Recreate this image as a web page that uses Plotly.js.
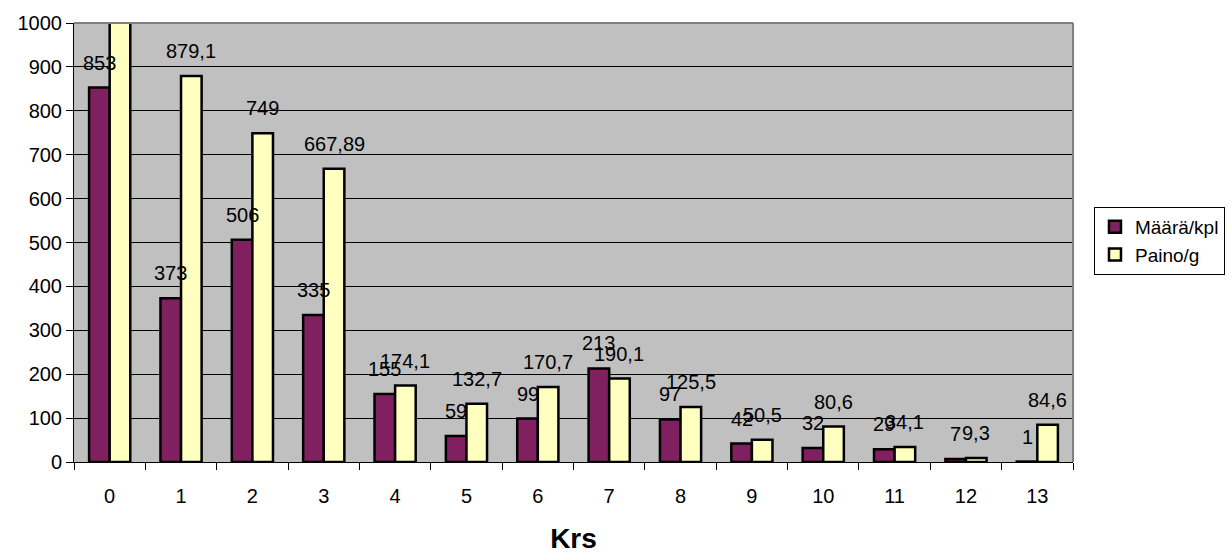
<!DOCTYPE html>
<html>
<head>
<meta charset="utf-8">
<script src="https://cdn.plot.ly/plotly-3.0.1.min.js"></script>
<style>html,body{margin:0;padding:0;background:#fff;}#chart{width:1232px;height:554px;}</style>
</head>
<body>
<div id="chart"></div>
<script>
const categories = ["0","1","2","3","4","5","6","7","8","9","10","11","12","13"];
const maaraValues = [853, 373, 506, 335, 155, 59, 99, 213, 97, 42, 32, 29, 7, 1];
const painoValues = [1130, 879.1, 749, 667.89, 174.1, 132.7, 170.7, 190.1, 125.5, 50.5, 80.6, 34.1, 9.3, 84.6];
const seriesNames = ["Määrä/kpl", "Paino/g"];
const yTicks = [0,100,200,300,400,500,600,700,800,900,1000];

const FONT = "Liberation Sans, Arial, sans-serif";
const fmt = v => String(v).replace('.', ',');

const barLine = {color: '#000000', width: 2.5};
const traces = [
  {type: 'bar', name: seriesNames[0], x: categories, y: maaraValues,
   marker: {color: '#802060', line: barLine}, hoverinfo: 'x+y'},
  {type: 'bar', name: seriesNames[1], x: categories, y: painoValues,
   marker: {color: '#FFFFC0', line: barLine}, hoverinfo: 'x+y'}
];

const annotations = [];
const series = [maaraValues, painoValues];
const shifts = [-10.3, 10.3];
series.forEach((vals, s) => {
  vals.forEach((v, i) => {
    annotations.push({
      x: categories[i], y: v, xref: 'x', yref: 'y',
      text: fmt(v), showarrow: false, xshift: shifts[s], yshift: 25,
      yanchor: 'middle', xanchor: 'center',
      font: {family: FONT, size: 20, color: '#000'}
    });
  });
});

const layout = {
  width: 1232, height: 554,
  margin: {l: 74, r: 159, t: 23, b: 92, pad: 0, autoexpand: false},
  paper_bgcolor: '#ffffff',
  plot_bgcolor: '#C0C0C0',
  barmode: 'group',
  bargap: 0.423,
  bargroupgap: 0,
  font: {family: FONT, size: 20, color: '#000'},
  xaxis: {
    type: 'category',
    showline: true, linecolor: '#000', linewidth: 1,
    ticks: 'outside', ticklen: 7, tickcolor: '#000', tickwidth: 1,
    tickson: 'boundaries', showgrid: false,
    ticklabelstandoff: 16,
    tickfont: {family: FONT, size: 20, color: '#000'},
    title: {text: '<b>Krs</b>', font: {family: FONT, size: 28, color: '#000'}, standoff: 24}
  },
  yaxis: {
    range: [0, 1000], tickvals: yTicks, ticktext: yTicks.map(String),
    showline: true, linecolor: '#000', linewidth: 1,
    ticks: 'outside', ticklen: 7, tickcolor: '#000', tickwidth: 1,
    showgrid: true, gridcolor: '#000', gridwidth: 1,
    zeroline: false,
    tickfont: {family: FONT, size: 20, color: '#000'}
  },
  legend: {
    x: 1.021, y: 0.581, xanchor: 'left', yanchor: 'top',
    bgcolor: '#ffffff', bordercolor: '#000', borderwidth: 1,
    font: {family: FONT, size: 19, color: '#000'},
    itemwidth: 30, tracegroupgap: 4
  },
  showlegend: true,
  annotations: annotations,
  shapes: [
    {type: 'line', xref: 'paper', yref: 'paper', x0: 0, x1: 1, y0: 1, y1: 1, line: {color: '#808080', width: 2}},
    {type: 'line', xref: 'paper', yref: 'paper', x0: 1, x1: 1, y0: 0, y1: 1, line: {color: '#808080', width: 2}}
  ]
};

Plotly.newPlot('chart', traces, layout, {displayModeBar: false, staticPlot: true});
</script>
</body>
</html>
